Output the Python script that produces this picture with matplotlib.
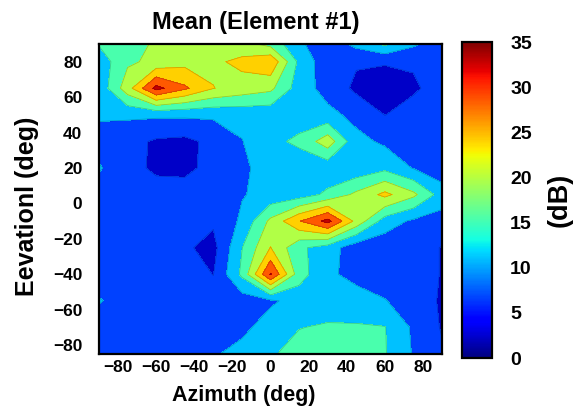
import matplotlib
matplotlib.use("Agg")
import matplotlib.pyplot as plt
import numpy as np
from matplotlib import cm, colors

# measurement grid (deg)
azimuth = [-90, -75, -60, -45, -30, -15, 0, 15, 30, 45, 60, 75, 90]
elevation = [90, 80, 65, 50, 35, 20, 5, -10, -25, -40, -55, -70, -85]

# mean level per (elevation, azimuth), dB
mean_db = [
    [13.5, 14.5, 18.5, 20, 20, 19, 16, 9.5, 6, 10, 14, 9.5, 6],
    [10.5, 16.8, 18.5, 20.5, 21, 23, 25.5, 12, 6, 4.8, 4.6, 4.8, 6],
    [10, 20, 32, 27, 22, 20, 18.5, 11, 7, 3.5, 3, 3.8, 6],
    [9.5, 9.5, 9.5, 9.5, 9.5, 10, 10, 11, 10, 7.5, 4.3, 6, 6],
    [6.5, 5.8, 3.8, 3.3, 5.5, 8.6, 12, 14, 20, 10, 8, 6.5, 6],
    [9.2, 5.8, 3.6, 3.5, 5.5, 8.2, 10, 10.5, 10.2, 10, 12, 8.5, 6],
    [6.5, 6, 6.2, 6, 6, 8.5, 10, 11, 14, 18.5, 23, 18.5, 11],
    [6, 6, 6, 6, 5, 9.5, 18.5, 26, 32, 20.5, 11, 8, 7],
    [6, 6, 6, 5, 3, 13, 22, 14, 11, 6, 6, 6, 4.2],
    [6, 6, 6, 6, 4.3, 14, 31, 15, 9.5, 7.5, 6, 6, 4.2],
    [9.2, 6, 6, 6, 6, 6.5, 8, 10.5, 11, 10.5, 9, 6, 4],
    [6, 6, 6, 6, 6.5, 7.5, 11, 13, 13.6, 13.6, 13.3, 8, 4],
    [6, 6, 6, 6, 8.2, 10.5, 12.7, 14.5, 15, 14.5, 13.4, 8.4, 5],
]

x_ticks = [-80, -60, -40, -20, 0, 20, 40, 60, 80]
y_ticks = [-80, -60, -40, -20, 0, 20, 40, 60, 80]
cbar_ticks = [0, 5, 10, 15, 20, 25, 30, 35]
c_min, c_max = 0, 35

plt.rcParams["font.family"] = ["Liberation Sans", "DejaVu Sans"]
plt.rcParams["font.weight"] = "bold"

fig = plt.figure(figsize=(5.77, 4.11), dpi=100)
ax = fig.add_axes([0.1716, 0.1387, 0.5945, 0.7543])

levels = np.linspace(c_min, c_max, 9)
norm = colors.Normalize(vmin=c_min, vmax=c_max)
az, el = np.meshgrid(azimuth, elevation)
z = np.array(mean_db)
ax.contourf(az, el, z, levels=levels, cmap="jet", norm=norm)
ax.contour(az, el, z, levels=levels, colors="k", linewidths=0.6, alpha=0.2)

ax.set_xlim(-90, 90)
ax.set_ylim(-85, 90)
ax.set_xticks(x_ticks)
ax.set_yticks(y_ticks)
ax.tick_params(axis="x", length=0, pad=4, labelsize=12.5)
ax.tick_params(axis="y", length=0, pad=12, labelsize=12.5)
for sp in ax.spines.values():
    sp.set_linewidth(1.6)

fig.text(256 / 577, 1 - 23 / 411, "Mean (Element #1)", ha="center",
         va="center", fontsize=17, fontweight="bold")
fig.text(244 / 577, 1 - 395 / 411, "Azimuth (deg)", ha="center",
         va="center", fontsize=15.5, fontweight="bold")
fig.text(27 / 577, 1 - 206 / 411, "Eevationl (deg)", ha="center",
         va="center", rotation=90, fontsize=18, fontweight="bold")

# continuous colour scale
cax = fig.add_axes([462 / 577, 53 / 411, 30 / 577, 316 / 411])
sm = cm.ScalarMappable(norm=norm, cmap="jet")
cb = fig.colorbar(sm, cax=cax, ticks=cbar_ticks)
cb.outline.set_linewidth(1.6)
cax.tick_params(length=0, pad=13, labelsize=14)
fig.text(560 / 577, 1 - 200 / 411, "(dB)", ha="center", va="center",
         rotation=90, fontsize=19.5, fontweight="bold")

fig.savefig("out.png", dpi=100)
